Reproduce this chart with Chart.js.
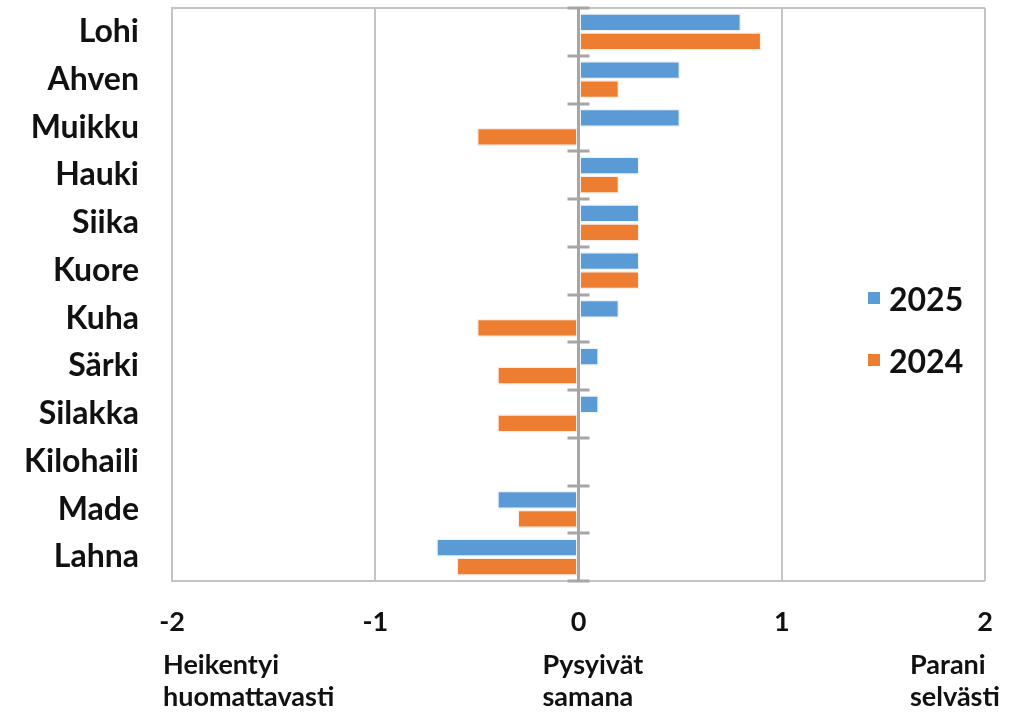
<!DOCTYPE html>
<html>
<head>
<meta charset="utf-8">
<script src="https://cdn.jsdelivr.net/npm/chart.js@4/dist/chart.umd.min.js"></script>
<style>
  html, body { margin: 0; padding: 0; background: #fff; }
  #wrap { position: relative; width: 1019px; height: 713px; }
  #legend { position: absolute; left: 868px; top: 267px; font: bold 32px Lato, sans-serif; color: #111; }
  #legend div { display: flex; align-items: center; height: 62px; }
  #legend span.box { width: 12px; height: 12px; margin-right: 9px; display: inline-block; }
</style>
</head>
<body>
<div id="wrap">
  <canvas id="fishChart" width="1019" height="713"></canvas>
  <div id="legend"></div>
</div>
<script>
/*
* kalakantojen muutos: two series per species, scale -2..2
*/
const species = ['Lohi', 'Ahven', 'Muikku', 'Hauki', 'Siika', 'Kuore', 'Kuha',
   'Särki', 'Silakka', 'Kilohaili', 'Made', 'Lahna'];
const values2025 = [0.8, 0.5, 0.5, 0.3, 0.3, 0.3, 0.2, 0.1, 0.1, 0, -0.4, -0.7];
const values2024 = [0.9, 0.2, -0.5, 0.2, 0.3, 0.3, -0.5, -0.4, -0.4, 0, -0.3, -0.6];
const xTicks = [-2, -1, 0, 1, 2];
const bottomNotes = [
   { value: -2, lines: ['Heikentyi', 'huomattavasti'] },
   { value: 0, lines: ['Pysyivät', 'samana'] },
   { value: 2, lines: ['Parani', 'selvästi'] }
];

const blue = '#5b9bd5';
const orange = '#ed7d31';
const axisGray = '#a6a6a6';
const gridGray = '#c4c4c4';

/*
* draws the frame round the plot, the short ticks across the zero line and
* the explanation texts under the axis.
*/
const extrasPlugin = {
   id: 'extras',
   afterDatasetsDraw(chart) {
      const ctx = chart.ctx;
      const area = chart.chartArea;
      const x = chart.scales.x;
      ctx.save();
      ctx.strokeStyle = gridGray;
      ctx.lineWidth = 2;
      ctx.beginPath();
      ctx.moveTo(area.left, area.top);
      ctx.lineTo(area.right, area.top);
      ctx.moveTo(area.left, area.bottom);
      ctx.lineTo(area.right, area.bottom);
      ctx.stroke();

      // zero line with its tick marks
      const x0 = x.getPixelForValue(0);
      ctx.strokeStyle = axisGray;
      ctx.lineWidth = 3;
      ctx.beginPath();
      ctx.moveTo(x0, area.top);
      ctx.lineTo(x0, area.bottom);
      const step = (area.bottom - area.top) / species.length;
      for (let i = 0; i <= species.length; i++) {
         const py = Math.round(area.top + step * i);
         ctx.moveTo(x0 - 11, py);
         ctx.lineTo(x0 + 11, py);
      }
      ctx.stroke();

      ctx.fillStyle = '#111';
      ctx.font = 'bold 27px Lato, sans-serif';
      ctx.textAlign = 'left';
      ctx.textBaseline = 'middle';
      const offsets = { '-2': -9, '0': -36, '2': -75 };
      bottomNotes.forEach(note => {
         const px = x.getPixelForValue(note.value) + offsets[note.value];
         note.lines.forEach((line, i) => {
            ctx.fillText(line, px, 665 + i * 32);
         });
      });
      ctx.restore();
   }
};

const chartData = {
   labels: species,
   datasets: [{
      label: '2025',
      data: values2025,
      backgroundColor: blue,
      borderColor: '#eef3fa',
      borderWidth: 1.5,
      borderSkipped: false
   }, {
      label: '2024',
      data: values2024,
      backgroundColor: orange,
      borderColor: '#fbeee6',
      borderWidth: 1.5,
      borderSkipped: false
   }]
};

const chartOptions = {
   indexAxis: 'y',
   responsive: false,
   animation: false,
   layout: {
      padding: { top: 8, right: 34, bottom: 62, left: 0 }
   },
   datasets: {
      bar: {
         categoryPercentage: 0.8,
         barPercentage: 0.96
      }
   },
   scales: {
      x: {
         min: -2,
         max: 2,
         afterBuildTicks: scale => {
            scale.ticks = xTicks.map(v => ({ value: v }));
         },
         afterFit: scale => {
            scale.height = 70;
            scale.paddingLeft = 0;
            scale.paddingRight = 0;
         },
         grid: {
            color: ctx => ctx.tick && ctx.tick.value === 0 ? 'rgba(0,0,0,0)' : gridGray,
            lineWidth: 2,
            drawTicks: false
         },
         border: { display: false },
         ticks: {
            color: '#111',
            padding: 25,
            font: { family: 'Lato', weight: 'bold', size: 27 }
         }
      },
      y: {
         afterFit: scale => {
            scale.width = 172;
            scale.paddingTop = 0;
            scale.paddingBottom = 0;
         },
         grid: { display: false },
         border: { color: gridGray, width: 2 },
         ticks: {
            color: '#111',
            padding: 25,
            font: { family: 'Lato', weight: 'bold', size: 32 }
         }
      }
   },
   plugins: {
      legend: { display: false },
      tooltip: { enabled: false }
   }
};

const fishChart = new Chart(document.querySelector('#fishChart'), {
   type: 'bar',
   data: chartData,
   options: chartOptions,
   plugins: [extrasPlugin]
});

// legend built from the datasets, placed inside the plot like the original
const legend = document.querySelector('#legend');
fishChart.data.datasets.forEach(ds => {
   const row = document.createElement('div');
   row.innerHTML = `<span class="box" style="background:${ds.backgroundColor}"></span>${ds.label}`;
   legend.appendChild(row);
});
</script>
</body>
</html>
